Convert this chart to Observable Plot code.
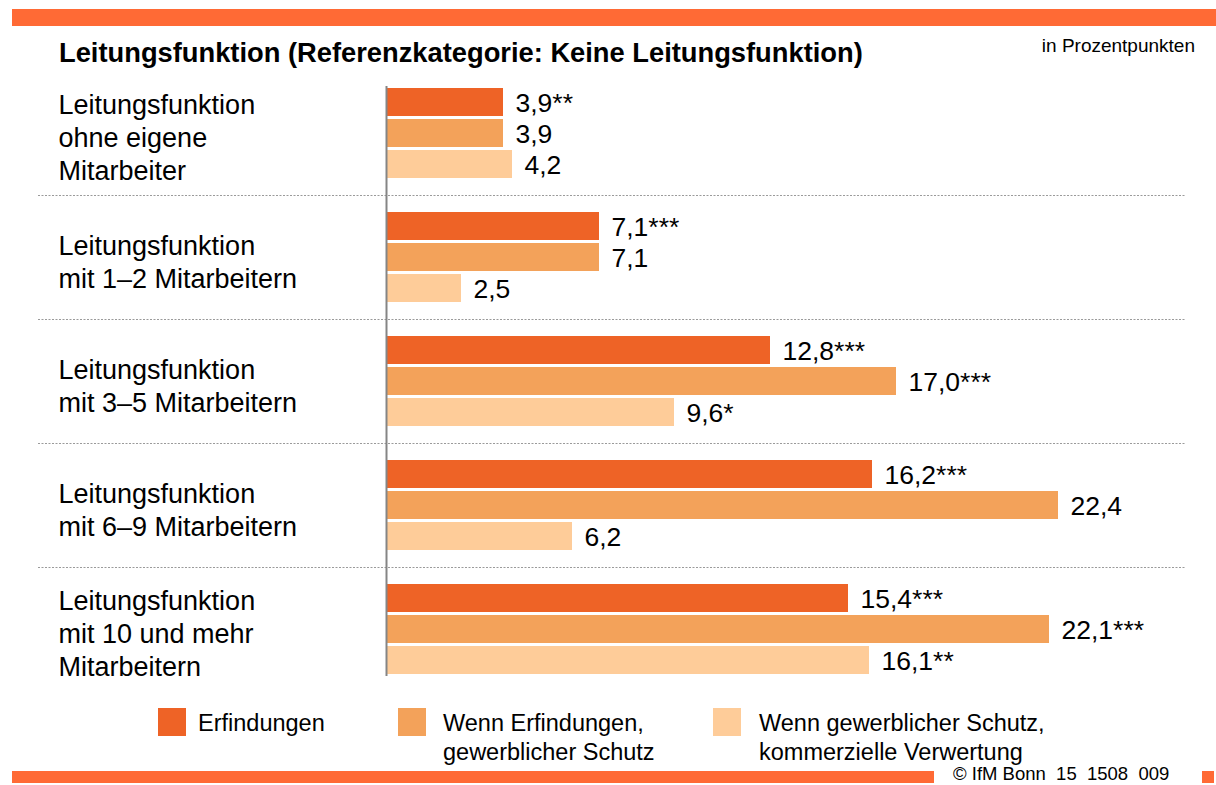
<!DOCTYPE html>
<html>
<head>
<meta charset="utf-8">
<script src="https://cdn.jsdelivr.net/npm/d3@7"></script>
<script src="https://cdn.jsdelivr.net/npm/@observablehq/plot@0.6"></script>
<style>
  html, body { margin: 0; padding: 0; background: #fff; }
  body { font-family: Arial, "Liberation Sans", sans-serif; color: #000; }
  #wrap { position: relative; width: 1216px; height: 785px; overflow: hidden; }
  .abs { position: absolute; line-height: 1; white-space: nowrap; }
  #topbar { left: 12px; top: 9px; width: 1204px; height: 17px; background: #FF6A35; }
  #title { left: 59px; top: 39px; font-weight: bold; font-size: 27.3px; }
  #unit { right: 21px; top: 36px; font-size: 19px; }
  #chart { left: 0; top: 0; }
  .sw { width: 28px; height: 28px; }
  .lt { font-size: 23.5px; line-height: 29px; }
  #botbar { left: 12px; top: 771px; width: 922px; height: 12px; background: #FF6A35; }
  #credit { left: 953px; top: 765px; font-size: 18.5px; white-space: pre; }
  #botsq { left: 1202px; top: 771px; width: 12px; height: 12px; background: #FF6A35; }
</style>
</head>
<body>
<div id="wrap">
  <div id="topbar" class="abs"></div>
  <div id="title" class="abs">Leitungsfunktion (Referenzkategorie: Keine Leitungsfunktion)</div>
  <div id="unit" class="abs">in Prozentpunkten</div>
  <div id="chart" class="abs"></div>
  <div id="legend"></div>
  <div id="botbar" class="abs"></div>
  <div id="credit" class="abs">© IfM Bonn  15  1508  009</div>
  <div id="botsq" class="abs"></div>
</div>
<script>
// ---- data ----
const groups = [
  "Leitungsfunktion\nohne eigene\nMitarbeiter",
  "Leitungsfunktion\nmit 1–2 Mitarbeitern",
  "Leitungsfunktion\nmit 3–5 Mitarbeitern",
  "Leitungsfunktion\nmit 6–9 Mitarbeitern",
  "Leitungsfunktion\nmit 10 und mehr\nMitarbeitern"
];
const series = [
  "Erfindungen",
  "Wenn Erfindungen,\ngewerblicher Schutz",
  "Wenn gewerblicher Schutz,\nkommerzielle Verwertung"
];
const erfindungen = [3.9, 7.1, 12.8, 16.2, 15.4];
const schutz      = [3.9, 7.1, 17.0, 22.4, 22.1];
const verwertung  = [4.2, 2.5, 9.6, 6.2, 16.1];
const sigErfindungen = ["**", "***", "***", "***", "***"];
const sigSchutz      = ["", "", "***", "", "***"];
const sigVerwertung  = ["", "", "*", "", "**"];
const colors = ["#EE6326", "#F3A25A", "#FECC99"];

// ---- build table ----
const seriesValues = [erfindungen, schutz, verwertung];
const seriesSig = [sigErfindungen, sigSchutz, sigVerwertung];
const key = (gi, si) => `g${gi}s${si}`;
const gapKey = (gi) => `gap${gi}`;
const rows = [];
groups.forEach((g, gi) => {
  series.forEach((s, si) => {
    const v = seriesValues[si][gi];
    rows.push({
      key: key(gi, si),
      series: s,
      value: v,
      label: v.toFixed(1).replace(".", ",") + seriesSig[si][gi]
    });
  });
});
const yDomain = [];
groups.forEach((g, gi) => {
  series.forEach((s, si) => yDomain.push(key(gi, si)));
  if (gi < groups.length - 1) yDomain.push(gapKey(gi));
});
const gaps = groups.slice(0, -1).map((g, gi) => gapKey(gi));
const groupRows = groups.map((g, gi) => ({label: g, key: key(gi, 1)}));

const chart = Plot.plot({
  width: 1216,
  height: 785,
  marginLeft: 38,
  marginRight: 31,
  marginTop: 80,
  marginBottom: 100,
  style: {background: "transparent", fontFamily: "Arial, 'Liberation Sans', sans-serif", overflow: "visible"},
  x: {domain: [0, 27], range: [386, 1196], axis: null},
  y: {domain: yDomain, range: [88, 674], paddingInner: 3 / 31, paddingOuter: 0, axis: null},
  color: {domain: series, range: colors},
  marks: [
    Plot.ruleY(gaps, {y: d => d, stroke: "#9a9a9a", strokeWidth: 1.2, strokeDasharray: "2,1.5"}),
    Plot.barX(rows, {x: "value", y: "key", fill: "series"}),
    Plot.ruleX([0], {x: d => d, y1: () => yDomain[0], y2: () => yDomain[yDomain.length - 1], stroke: "#858585", strokeWidth: 2, insetTop: -2, insetBottom: -2}),
    Plot.text(rows, {x: "value", y: "key", text: "label", dx: 12, dy: 1, textAnchor: "start", fontSize: 26.5, fill: "#000"}),
    Plot.text(groupRows, {y: "key", text: "label", frameAnchor: "left", dx: 20, dy: 3, textAnchor: "start", fontSize: 27, lineHeight: 1.22, fill: "#000"})
  ]
});
document.getElementById("chart").appendChild(chart);

// ---- legend (HTML) ----
const legend = document.getElementById("legend");
const swatchX = [158, 398, 713];
const textX = [198, 443, 759];
series.forEach((s, i) => {
  const sw = document.createElement("div");
  sw.className = "abs sw";
  sw.style.left = swatchX[i] + "px";
  sw.style.top = "708px";
  sw.style.background = colors[i];
  legend.appendChild(sw);
  const t = document.createElement("div");
  t.className = "abs lt";
  t.style.left = textX[i] + "px";
  t.style.top = "709px";
  t.innerHTML = s.split("\n").join("<br>");
  legend.appendChild(t);
});
</script>
</body>
</html>
